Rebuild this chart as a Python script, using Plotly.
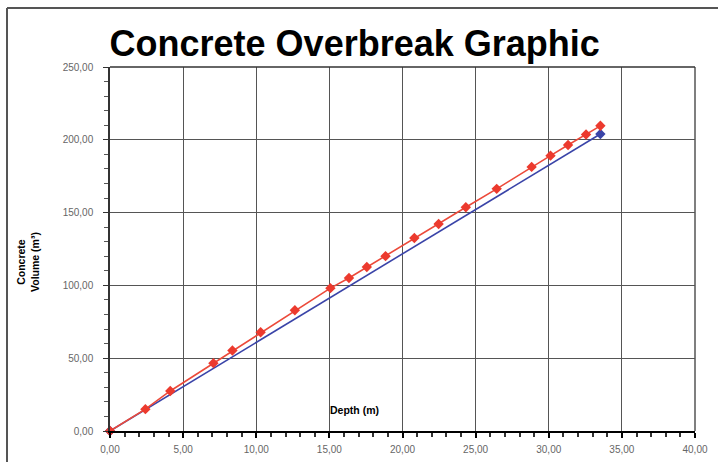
import plotly.graph_objects as go

depth_measured = [0, 2.42, 4.12, 7.07, 8.37, 10.30, 12.64, 15.07, 16.34, 17.56, 18.84,
                  20.81, 22.47, 24.33, 26.44, 28.83, 30.12, 31.32, 32.55, 33.53]
volume_measured = [0, 15.0, 27.5, 46.6, 55.3, 67.8, 82.9, 98.1, 105.1, 112.6, 120.1,
                   132.6, 142.2, 153.7, 166.3, 181.4, 189.1, 196.4, 203.6, 209.6]
depth_theoretical = [0, 33.53]
volume_theoretical = [0, 204.0]

x_ticks = [0, 5, 10, 15, 20, 25, 30, 35, 40]
x_labels = ["0,00", "5,00", "10,00", "15,00", "20,00", "25,00", "30,00", "35,00", "40,00"]
y_ticks = [0, 50, 100, 150, 200, 250]
y_labels = ["0,00", "50,00", "100,00", "150,00", "200,00", "250,00"]

narrow = "Liberation Sans Narrow, Arial Narrow, Liberation Sans, Arial, sans-serif"

fig = go.Figure()
fig.add_trace(go.Scatter(
    x=depth_theoretical, y=volume_theoretical, mode="lines+markers",
    line=dict(color="#3a44a8", width=1.6),
    marker=dict(symbol="diamond", size=8, color="#3a44a8"),
    showlegend=False, cliponaxis=False))
fig.add_trace(go.Scatter(
    x=depth_measured, y=volume_measured, mode="lines+markers",
    line=dict(color="#ec4a3a", width=1.6),
    marker=dict(symbol="diamond", size=8, color="#ec3a2e"),
    showlegend=False, cliponaxis=False))

fig.update_layout(
    width=718, height=462,
    margin=dict(l=110, r=23, t=67, b=31),
    paper_bgcolor="white", plot_bgcolor="white",
    title=dict(text="<b>Concrete Overbreak Graphic</b>",
               font=dict(family="Liberation Sans, Arial, sans-serif", size=36, color="black"),
               x=0.494, xanchor="center", y=0.905, yanchor="middle"),
    xaxis=dict(range=[0, 40], tickvals=x_ticks, ticktext=x_labels,
               showgrid=True, gridcolor="#555555", gridwidth=1,
               showline=True, linecolor="black", linewidth=2, mirror=False,
               ticks="outside", ticklen=5, tickcolor="black", tickwidth=1.5,
               ticklabelstandoff=3, automargin=False,
               minor=dict(dtick=1, ticks="outside", ticklen=4, tickcolor="#333", showgrid=False),
               tickfont=dict(family=narrow, size=10, color="#666666"),
               zeroline=False, fixedrange=True),
    yaxis=dict(range=[0, 250], tickvals=y_ticks, ticktext=y_labels,
               showgrid=True, gridcolor="#555555", gridwidth=1,
               showline=True, linecolor="#333333", linewidth=1.5,
               ticks="outside", ticklen=5, tickcolor="#333", tickwidth=1,
               ticklabelstandoff=8, automargin=False,
               minor=dict(dtick=10, ticks="outside", ticklen=4, tickcolor="#555", showgrid=False),
               tickfont=dict(family=narrow, size=10, color="#666666"),
               zeroline=False, fixedrange=True),
    shapes=[
        dict(type="line", xref="paper", yref="paper", x0=1, x1=1, y0=0, y1=1,
             line=dict(color="#555555", width=1.5)),
        dict(type="line", xref="paper", yref="paper", x0=0, x1=1, y0=1, y1=1,
             line=dict(color="#333333", width=1.5)),
        dict(type="line", xref="paper", yref="paper", x0=(7 - 110) / 585, x1=(718 - 110) / 585 + 0.01,
             y0=(431 - 8) / 364, y1=(431 - 8) / 364, line=dict(color="#555555", width=2)),
        dict(type="line", xref="paper", yref="paper", x0=(7 - 110) / 585, x1=(7 - 110) / 585,
             y0=(431 - 8) / 364, y1=(431 - 470) / 364, line=dict(color="#555555", width=2)),
    ],
    annotations=[
        dict(text="<b>Depth (m)</b>", xref="paper", yref="paper",
             x=(354 - 110) / 585, y=(431 - 410) / 364, xanchor="center", yanchor="middle",
             showarrow=False, font=dict(family=narrow, size=10.5, color="black")),
        dict(text="<b>Concrete<br>Volume (m³)</b>", xref="paper", yref="paper",
             x=(28 - 110) / 585, y=(431 - 262) / 364, xanchor="center", yanchor="middle",
             showarrow=False, textangle=-90,
             font=dict(family=narrow, size=10.5, color="black")),
    ],
)

fig.write_html("out.html", post_script="document.body.style.margin='0';",
               config={"displayModeBar": False})
